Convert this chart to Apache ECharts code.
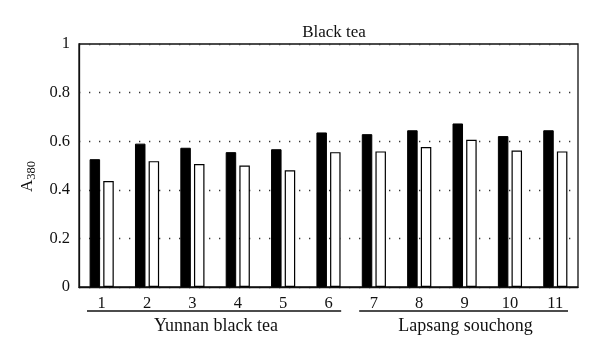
<!DOCTYPE html>
<html><head><meta charset="utf-8">
<script src="https://cdn.jsdelivr.net/npm/echarts@6/dist/echarts.min.js"></script>
<style>html,body{margin:0;padding:0;background:#fff}#c{width:600px;height:357px}</style>
</head><body><div id="c"></div>
<script>
const categories = ['1','2','3','4','5','6','7','8','9','10','11'];
const blackValues = [0.526, 0.590, 0.573, 0.555, 0.567, 0.636, 0.629, 0.645, 0.673, 0.621, 0.645];
const whiteValues = [0.436, 0.518, 0.506, 0.500, 0.480, 0.555, 0.558, 0.576, 0.606, 0.562, 0.558];
const yTicks = [0, 0.2, 0.4, 0.6, 0.8, 1];
const groups = [
  {name: 'Yunnan black tea', from: 0, to: 5},
  {name: 'Lapsang souchong', from: 6, to: 10}
];
const FONT = 'Liberation Serif';
const chart = echarts.init(document.getElementById('c'), null, {renderer: 'canvas'});
chart.setOption({
  animation: false,
  backgroundColor: '#fff',
  title: {text: 'Black tea', top: 19, left: 329, textAlign: 'center', textStyle: {fontFamily: FONT, fontSize: 17, fontWeight: 'normal', color: '#111'}},
  grid: {left: 79, right: 22, top: 44, bottom: 70, show: true, borderColor: '#111', borderWidth: 1.3},
  xAxis: {
    type: 'category', data: categories,
    axisLine: {lineStyle: {color: '#111', width: 1.3}},
    axisTick: {show: false},
    axisLabel: {fontFamily: FONT, fontSize: 16.5, color: '#111', margin: 8}
  },
  yAxis: {
    type: 'value', min: 0, max: 1, interval: 0.2,
    axisLine: {show: true, lineStyle: {color: '#111', width: 1.3}},
    axisTick: {show: false},
    axisLabel: {fontFamily: FONT, fontSize: 16.5, color: '#111', margin: 9,
      formatter: v => { const t = yTicks.find(x => Math.abs(x - v) < 1e-9); return t === undefined ? '' : String(t); }},
    splitLine: {show: true, lineStyle: {color: '#333', type: [1.3, 8.7], width: 1.3}}
  },
  series: [
    {type: 'bar', data: blackValues, barWidth: 10.5, barGap: '30%', itemStyle: {color: '#000', borderColor: '#000', borderWidth: 1}},
    {type: 'bar', data: whiteValues, barWidth: 10.5, barGap: '30%', itemStyle: {color: '#fff', borderColor: '#000', borderWidth: 1.2}}
  ]
});

function drawGroups() {
  const els = [];
  const half = (chart.convertToPixel({xAxisIndex: 0}, 1) - chart.convertToPixel({xAxisIndex: 0}, 0)) / 2;
  const yBase = chart.convertToPixel({yAxisIndex: 0}, 0);
  groups.forEach(g => {
    const x0 = chart.convertToPixel({xAxisIndex: 0}, g.from) - half + 8;
    const x1 = chart.convertToPixel({xAxisIndex: 0}, g.to) + half - 10;
    els.push({type: 'line', shape: {x1: x0, y1: yBase + 24, x2: x1, y2: yBase + 24}, style: {stroke: '#111', lineWidth: 1.3}, silent: true});
    els.push({type: 'text', x: (x0 + x1) / 2 + 2, y: yBase + 39, style: {text: g.name, fontFamily: FONT, fontSize: 18, fill: '#111', align: 'center', verticalAlign: 'middle'}, silent: true});
  });
  const yMid = (chart.convertToPixel({yAxisIndex: 0}, 0) + chart.convertToPixel({yAxisIndex: 0}, 1)) / 2 + 11;
  els.push({type: 'group', x: 28, y: yMid, rotation: Math.PI / 2, children: [
    {type: 'text', x: 0, y: 0, style: {text: '{a|A}{s|380}', fontFamily: FONT, fill: '#111', align: 'center', verticalAlign: 'middle',
      rich: {a: {fontFamily: FONT, fontSize: 17, fill: '#111'}, s: {fontFamily: FONT, fontSize: 12.5, fill: '#111', padding: [7, 0, 0, 0]}}}}
  ]});
  chart.setOption({graphic: els});
}
drawGroups();
</script></body></html>
